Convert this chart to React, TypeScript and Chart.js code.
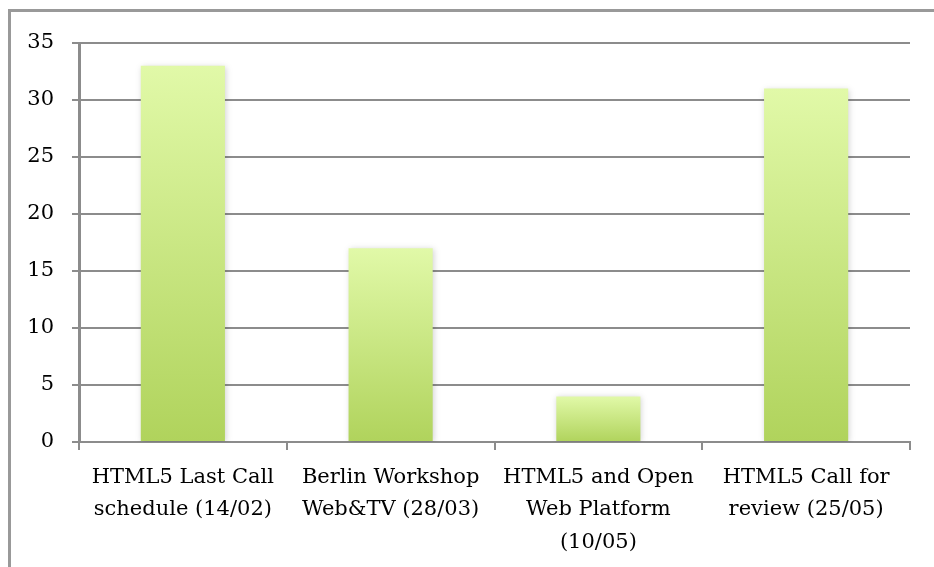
import React, { useEffect, useRef } from "react";
import { Chart, registerables } from "chart.js";

Chart.register(...registerables);

const categories: string[][] = [
  ["HTML5 Last Call", "schedule (14/02)"],
  ["Berlin Workshop", "Web&TV (28/03)"],
  ["HTML5 and Open", "Web Platform", "(10/05)"],
  ["HTML5 Call for", "review (25/05)"],
];
const values: number[] = [33, 17, 4, 31];
const yTicks: number[] = [0, 5, 10, 15, 20, 25, 30, 35];

const FONT = "'DejaVu Serif', serif";
const GRID = "#8c8c8c";

const frame = {
  id: "frame",
  beforeDraw(chart: any) {
    const ctx = chart.ctx;
    ctx.save();
    ctx.fillStyle = "#ffffff";
    ctx.fillRect(0, 0, chart.width, chart.height);
    ctx.strokeStyle = "#999999";
    ctx.lineWidth = 3;
    ctx.beginPath();
    ctx.moveTo(9.5, chart.height + 5);
    ctx.lineTo(9.5, 10.5);
    ctx.lineTo(chart.width + 5, 10.5);
    ctx.stroke();
    ctx.restore();
  },
  beforeDatasetsDraw(chart: any) {
    const ctx = chart.ctx;
    ctx.save();
    ctx.shadowColor = "rgba(0,0,0,0.18)";
    ctx.shadowBlur = 6;
    ctx.shadowOffsetX = 1;
    ctx.shadowOffsetY = 1;
  },
  afterDatasetsDraw(chart: any) {
    chart.ctx.restore();
  },
};

export default function App() {
  const ref = useRef<HTMLCanvasElement | null>(null);
  useEffect(() => {
    document.body.style.margin = "0";
    const canvas = ref.current!;
    const chart = new Chart(canvas, {
      type: "bar",
      data: {
        labels: categories,
        datasets: [
          {
            data: values,
            backgroundColor: (c: any) => {
              const ch = c.chart;
              const y = ch.scales && ch.scales.y;
              if (!y || !ch.chartArea) return "#c8e47f";
              const v = values[c.dataIndex] ?? 0;
              const top = y.getPixelForValue(v);
              const bottom = y.getPixelForValue(0);
              if (!isFinite(top) || !isFinite(bottom) || top === bottom) return "#c8e47f";
              const g = ch.ctx.createLinearGradient(0, top, 0, bottom);
              g.addColorStop(0, "#e1f9a8");
              g.addColorStop(1, "#b0d35c");
              return g;
            },
            borderWidth: 0,
            barPercentage: 0.81,
            categoryPercentage: 0.5,
          },
        ],
      },
      options: {
        responsive: false,
        animation: false,
        layout: { padding: { left: 0, right: 24, top: 43, bottom: 0 } },
        plugins: { legend: { display: false }, tooltip: { enabled: false } },
        scales: {
          x: {
            grid: {
              display: true,
              drawOnChartArea: false,
              drawTicks: true,
              tickLength: 8,
              color: GRID,
              lineWidth: 2,
              offset: true,
            },
            border: { display: true, color: GRID, width: 2 },
            ticks: {
              color: "#000000",
              font: { family: FONT, size: 21, lineHeight: 1.55 },
              padding: 11,
              maxRotation: 0,
              autoSkip: false,
            },
            afterFit: (s: any) => {
              s.height = 125;
            },
          },
          y: {
            min: 0,
            max: 35,
            afterBuildTicks: (s: any) => {
              s.ticks = yTicks.map((v) => ({ value: v }));
            },
            grid: {
              color: GRID,
              lineWidth: 2,
              tickLength: 7,
              drawTicks: true,
            },
            border: { display: true, color: GRID, width: 3 },
            ticks: {
              color: "#000000",
              font: { family: FONT, size: 21 },
              padding: 18,
            },
            afterFit: (s: any) => {
              s.width = 79;
            },
          },
        },
      },
      plugins: [frame],
    });
    return () => chart.destroy();
  }, []);
  return <canvas ref={ref} width={934} height={567} style={{ display: "block" }} />;
}
